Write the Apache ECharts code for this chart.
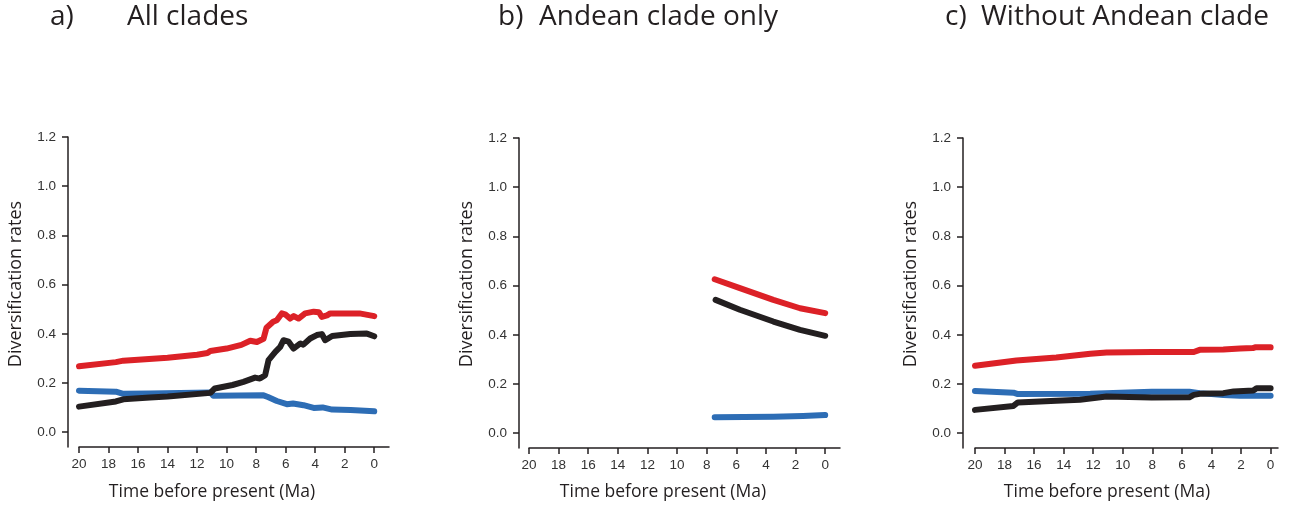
<!DOCTYPE html>
<html>
<head>
<meta charset="utf-8">
<script src="https://cdn.jsdelivr.net/npm/echarts@6/dist/echarts.min.js"></script>
<style>
html,body{margin:0;padding:0;background:#fff;}
#chart{width:1291px;height:506px;}
</style>
</head>
<body>
<div id="chart"></div>
<script>
// ---- Data (time before present in Ma, diversification rate) ----
const panelTitles = ["a)", "b)", "c)"];
const panelNames = ["All clades", "Andean clade only", "Without Andean clade"];
const xTicks = [0, 2, 4, 6, 8, 10, 12, 14, 16, 18, 20];
const yTicks = [0, 0.2, 0.4, 0.6, 0.8, 1.0, 1.2];
const yTitle = "Diversification rates";
const xTitle = "Time before present (Ma)";

// a) All clades
const allRed = [[20,0.268],[17.5,0.285],[17,0.291],[14,0.303],[12,0.315],[11.3,0.322],[11.1,0.330],[10,0.340],[9,0.355],[8.4,0.372],[7.95,0.367],[7.5,0.380],[7.3,0.425],[6.85,0.449],[6.6,0.455],[6.26,0.483],[6.0,0.478],[5.7,0.462],[5.45,0.472],[5.13,0.462],[4.68,0.483],[4.1,0.490],[3.75,0.488],[3.55,0.469],[3.2,0.475],[2.98,0.483],[2,0.483],[1,0.483],[0,0.472]];
const allBlack = [[20,0.104],[17.5,0.125],[17,0.134],[15.2,0.141],[14,0.145],[11.1,0.160],[10.8,0.178],[9.6,0.192],[8.86,0.205],[8.07,0.222],[7.75,0.218],[7.39,0.232],[7.16,0.293],[6.7,0.327],[6.37,0.347],[6.15,0.374],[5.8,0.368],[5.47,0.340],[5.0,0.361],[4.8,0.356],[4.34,0.381],[3.89,0.395],[3.55,0.399],[3.32,0.374],[2.85,0.391],[1.62,0.399],[0.5,0.401],[0,0.390]];
const allBlue = [[20,0.169],[17.5,0.165],[17,0.156],[15.2,0.157],[11.1,0.162],[10.9,0.148],[7.5,0.150],[7.2,0.143],[6.6,0.127],[5.92,0.114],[5.5,0.117],[4.79,0.110],[4.1,0.099],[3.5,0.101],[2.85,0.092],[1.6,0.090],[0,0.085]];

// b) Andean clade only
const andRed = [[7.46,0.626],[5.76,0.590],[3.5,0.542],[1.7,0.508],[0,0.488]];
const andBlack = [[7.4,0.542],[5.76,0.502],[3.5,0.454],[1.7,0.420],[0,0.396]];
const andBlue = [[7.46,0.065],[3.5,0.067],[1.5,0.070],[0,0.074]];

// c) Without Andean clade
const woRed = [[20,0.274],[17.2,0.296],[14.5,0.308],[12.2,0.323],[11.1,0.328],[8,0.330],[5.2,0.330],[4.8,0.339],[3.2,0.340],[2.07,0.344],[1.2,0.346],[1.0,0.350],[0,0.349]];
const woBlack = [[20,0.095],[17.4,0.111],[17.1,0.125],[14.5,0.132],[12.9,0.136],[11.1,0.149],[8.05,0.145],[5.5,0.146],[5.2,0.156],[4.8,0.160],[3.2,0.163],[2.5,0.170],[1.17,0.174],[0.95,0.183],[0,0.183]];
const woBlue = [[20,0.172],[17.4,0.165],[17.1,0.159],[12.2,0.160],[8.05,0.169],[5.5,0.169],[4.8,0.163],[3.2,0.155],[2.07,0.152],[0,0.152]];

// ---- Layout ----
const RED = '#dc2127', BLACK = '#231f20', BLUE = '#2d6db5';
const grids = [
  {left: 79, top: 137, width: 310, height: 310, xMin: -1, yOffset: 11, yTitleX: 15.5, xTitleX: 212, titleX: 50, nameX: 127},
  {left: 529, top: 138, width: 311, height: 310, xMin: -1, yOffset: 10, yTitleX: 467, xTitleX: 663, titleX: 498, nameX: 539},
  {left: 975, top: 138, width: 303, height: 310, xMin: -0.5, yOffset: 12, yTitleX: 911, xTitleX: 1107, titleX: 945, nameX: 981}
];
const seriesSets = [[allBlue, allBlack, allRed], [andBlue, andBlack, andRed], [woBlue, woBlack, woRed]];
const colors = [BLUE, BLACK, RED];

const axisFont = 'Liberation Sans';
const option = {
  animation: false,
  backgroundColor: '#fff',
  grid: grids.map(g => ({left: g.left, top: g.top, width: g.width, height: g.height, containLabel: false})),
  xAxis: grids.map((g, i) => ({
    type: 'value', gridIndex: i, min: g.xMin, max: 20, inverse: true,
    axisLine: {show: true, onZero: false, lineStyle: {color: BLACK, width: 1.5}},
    axisTick: {show: true, length: 6, customValues: xTicks, lineStyle: {color: BLACK, width: 1.5}},
    axisLabel: {customValues: xTicks, margin: 10, color: '#333333', fontSize: 13.5, fontFamily: axisFont},
    splitLine: {show: false}
  })),
  yAxis: grids.map((g, i) => ({
    type: 'value', gridIndex: i, min: -0.06, max: 1.2, offset: g.yOffset,
    axisLine: {show: true, onZero: false, lineStyle: {color: BLACK, width: 1.5}},
    axisTick: {show: true, length: 6, customValues: yTicks, lineStyle: {color: BLACK, width: 1.5}},
    axisLabel: {customValues: yTicks, margin: 12, color: '#333333', fontSize: 13.5, fontFamily: axisFont,
      formatter: v => v.toFixed(1)},
    splitLine: {show: false}
  })),
  series: [],
  graphic: []
};
seriesSets.forEach((set, i) => {
  set.forEach((data, k) => {
    option.series.push({
      type: 'line', xAxisIndex: i, yAxisIndex: i, data: data,
      showSymbol: false, symbol: 'none', silent: true,
      lineStyle: {color: colors[k], width: 6, cap: 'round', join: 'round'}
    });
  });
});
const textFont = 'Open Sans';
grids.forEach((g, i) => {
  option.graphic.push({type: 'text', left: g.titleX, top: 3, style: {text: panelTitles[i], font: '28px "' + textFont + '"', fill: BLACK}});
  option.graphic.push({type: 'text', left: g.nameX, top: 3, style: {text: panelNames[i], font: '28px "' + textFont + '"', fill: BLACK}});
  option.graphic.push({type: 'text', x: g.yTitleX, y: 284, rotation: Math.PI / 2,
    style: {text: yTitle, font: '18px "' + textFont + '"', fill: BLACK, align: 'center', verticalAlign: 'middle'}});
  option.graphic.push({type: 'text', x: g.xTitleX, y: 492,
    style: {text: xTitle, font: '17.5px "' + textFont + '"', fill: BLACK, align: 'center', verticalAlign: 'middle'}});
});
const chart = echarts.init(document.getElementById('chart'), null, {renderer: 'canvas'});
chart.setOption(option);
</script>
</body>
</html>
